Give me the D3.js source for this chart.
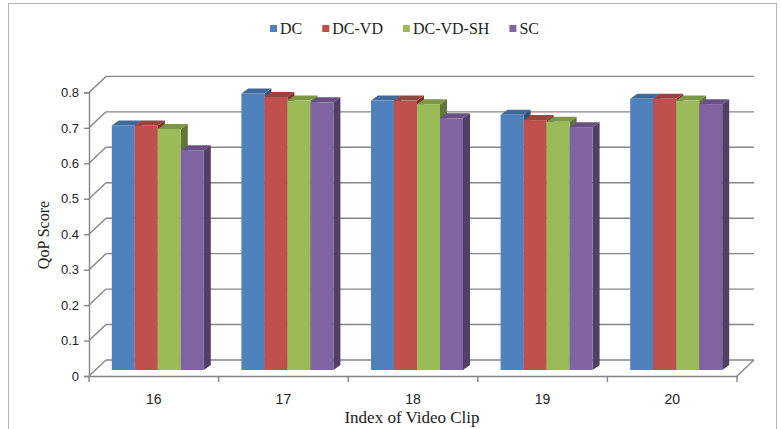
<!DOCTYPE html>
<html>
<head>
<meta charset="utf-8">
<script src="https://cdn.jsdelivr.net/npm/d3@7"></script>
<style>
  html, body { margin: 0; padding: 0; background: #fff; }
  svg { display: block; }
</style>
</head>
<body>
<svg id="chart" width="781" height="429"></svg>
<script>
// QoP score per video clip, four schemes
const categories = ["16", "17", "18", "19", "20"];
const seriesNames = ["DC", "DC-VD", "DC-VD-SH", "SC"];
const dcValues     = [0.69, 0.78, 0.76, 0.72, 0.765];
const dcVdValues   = [0.69, 0.77, 0.76, 0.705, 0.765];
const dcVdShValues = [0.68, 0.76, 0.75, 0.70, 0.76];
const scValues     = [0.62, 0.755, 0.71, 0.685, 0.75];
const yTicks = [0, 0.1, 0.2, 0.3, 0.4, 0.5, 0.6, 0.7, 0.8];
const colors = ["#4F81BD", "#C0504D", "#9BBB59", "#8064A2"];

const seriesValues = [dcValues, dcVdValues, dcVdShValues, scValues];

const svg = d3.select("#chart");

// chart area frame
svg.append("rect")
  .attr("x", 8.5).attr("y", 3.5).attr("width", 768).attr("height", 440)
  .attr("fill", "#fff").attr("stroke", "#b4b4b4").attr("stroke-width", 1);

// 3D layout: front plane, wall depth, bar depth
const front = { left: 89, right: 737 };
const depth = { dx: 17, dy: -16 };
const barShift = { dx: 4, dy: -6 };
const barDepth = { dx: 7, dy: -5 };

const x = d3.scaleBand().domain(categories).range([front.left, front.right]).paddingInner(0).paddingOuter(0);
const y = d3.scaleLinear().domain([0, 0.8]).range([376, 92.4]);
const xs = d3.scaleBand().domain(seriesNames).range([-46, 46]);

const gridColor = "#858585";
const grid = svg.append("g").attr("fill", "none").attr("stroke", gridColor).attr("stroke-width", 1.4);

// back wall gridlines
grid.selectAll("line.back").data(yTicks).join("line")
  .attr("class", "back")
  .attr("x1", front.left + depth.dx).attr("x2", front.right + depth.dx)
  .attr("y1", d => y(d) + depth.dy).attr("y2", d => y(d) + depth.dy);

// side wall gridlines
grid.selectAll("line.side").data(yTicks).join("line")
  .attr("class", "side")
  .attr("x1", front.left).attr("x2", front.left + depth.dx)
  .attr("y1", d => y(d)).attr("y2", d => y(d) + depth.dy);

// floor right edge
grid.append("line")
  .attr("x1", front.right).attr("y1", y(0))
  .attr("x2", front.right + depth.dx).attr("y2", y(0) + depth.dy);

// bars
const bars = svg.append("g");
categories.forEach((cat, i) => {
  seriesNames.forEach((name, j) => {
    const v = seriesValues[j][i];
    const c = d3.color(colors[j]);
    const x0 = x(cat) + x.bandwidth() / 2 + xs(name) + barShift.dx;
    const x1 = x0 + xs.bandwidth();
    const yt = y(v) + barShift.dy;
    const yb = y(0) + barShift.dy;
    const g = bars.append("g");
    // right side face
    g.append("path")
      .attr("d", `M${x1},${yt}L${x1 + barDepth.dx},${yt + barDepth.dy}L${x1 + barDepth.dx},${yb + barDepth.dy}L${x1},${yb}Z`)
      .attr("fill", c.darker(1.3));
    // top face
    g.append("path")
      .attr("d", `M${x0},${yt}L${x0 + barDepth.dx},${yt + barDepth.dy}L${x1 + barDepth.dx},${yt + barDepth.dy}L${x1},${yt}Z`)
      .attr("fill", c.darker(0.6));
    // front face
    g.append("rect")
      .attr("x", x0).attr("y", yt)
      .attr("width", xs.bandwidth()).attr("height", yb - yt)
      .attr("fill", c);
  });
});

// value axis
const yAxis = d3.axisLeft(y).tickValues(yTicks).tickSize(5).tickPadding(5)
  .tickFormat(d => d === 0 ? "0" : d3.format(".1f")(d));
const gy = svg.append("g").attr("transform", `translate(${front.left},0)`).call(yAxis);
gy.select(".domain").attr("stroke", gridColor).attr("stroke-width", 1.4);
gy.selectAll(".tick line").attr("stroke", gridColor).attr("stroke-width", 1.4);
gy.selectAll(".tick text").attr("font-family", "Liberation Sans, Arial, sans-serif")
  .attr("font-size", 13).attr("fill", "#222");

// category axis
const xAxis = d3.axisBottom(x).tickSize(0).tickPadding(0);
const gx = svg.append("g").attr("transform", `translate(0,${y(0)})`).call(xAxis);
gx.select(".domain").attr("stroke", gridColor).attr("stroke-width", 1.4);
gx.selectAll(".tick text").attr("font-family", "Liberation Sans, Arial, sans-serif")
  .attr("font-size", 14).attr("fill", "#222").attr("dy", 28);
// boundary tick marks between categories
const bounds = categories.map(c => x(c)).concat([front.right]);
gx.selectAll("line.bound").data(bounds).join("line")
  .attr("class", "bound")
  .attr("x1", d => d).attr("x2", d => d).attr("y1", 0).attr("y2", 6)
  .attr("stroke", gridColor).attr("stroke-width", 1.4);

// axis titles
svg.append("text")
  .attr("x", 412).attr("y", 423).attr("text-anchor", "middle")
  .attr("font-family", "Liberation Serif, Times New Roman, serif").attr("font-size", 17)
  .attr("fill", "#222").text("Index of Video Clip");
svg.append("text")
  .attr("transform", "translate(49,235) rotate(-90)").attr("text-anchor", "middle")
  .attr("font-family", "Liberation Serif, Times New Roman, serif").attr("font-size", 16)
  .attr("fill", "#222").text("QoP Score");

// legend
const legend = svg.append("g").attr("font-family", "Liberation Serif, Times New Roman, serif")
  .attr("font-size", 16).attr("fill", "#222");
let lx = 0;
seriesNames.forEach((name, j) => {
  const item = legend.append("g");
  item.append("rect").attr("x", 0).attr("y", -9).attr("width", 7).attr("height", 7).attr("fill", colors[j]);
  const t = item.append("text").attr("x", 10).attr("y", 0).text(name);
  const w = 10 + t.node().getComputedTextLength();
  item.attr("transform", `translate(${lx},0)`);
  lx += w + 20;
});
const legendWidth = lx - 20;
legend.attr("transform", `translate(${404.5 - legendWidth / 2},34)`);
</script>
</body>
</html>
